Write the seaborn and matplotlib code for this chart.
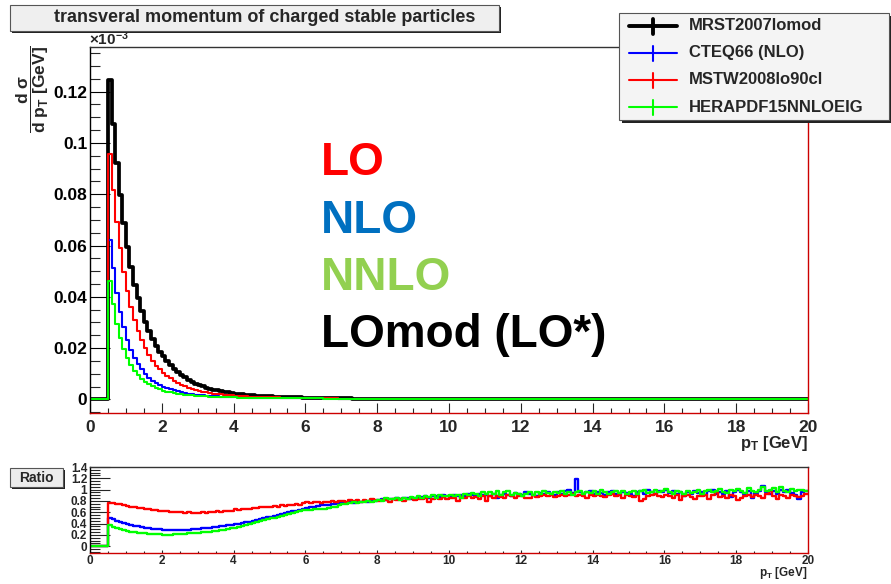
import numpy as np
import pandas as pd
import matplotlib
matplotlib.use("Agg")
import matplotlib.pyplot as plt
import seaborn as sns
from matplotlib.patches import Rectangle
from matplotlib.lines import Line2D
from matplotlib.ticker import MultipleLocator, FuncFormatter

# ---------------- data ----------------
pt_start = 0.5          # first filled bin edge [GeV]
bin_width = 0.1         # histogram bin width [GeV]
pt_max = 20.0

series_names = ["MRST2007lomod", "CTEQ66 (NLO)", "MSTW2008lo90cl", "HERAPDF15NNLOEIG"]
series_colors = ["#000000", "#0000ff", "#ff0000", "#00ff00"]

# d sigma / d pT of the reference (MRST2007lomod) histogram, in units of 1e-3
black_main = [
    0.1244, 0.1075, 0.0921, 0.0797, 0.0688,
    0.0594, 0.0516, 0.0448, 0.0394, 0.0345, 0.0301, 0.0265, 0.0235, 0.0208, 0.0186,
    0.0168, 0.0150, 0.0134, 0.0120, 0.0107, 0.0096, 0.0086, 0.0077, 0.0069, 0.0062,
    0.0057, 0.0051, 0.0046, 0.0042, 0.0038, 0.0035, 0.0032, 0.0029, 0.0027, 0.0025,
    0.0023, 0.0021, 0.0020, 0.0018, 0.0017, 0.0016, 0.0015, 0.0014, 0.0013, 0.0013,
    0.0012, 0.0011, 0.0011, 0.0010, 0.0010, 0.0009, 0.0009, 0.0008, 0.0008, 0.0007,
    0.0007, 0.0007, 0.0006, 0.0006, 0.0006, 0.0005, 0.0005, 0.0005, 0.0005, 0.0004,
    0.0004, 0.0004, 0.0004, 0.0003, 0.0003, 0.0003, 0.0003, 0.0003, 0.0003, 0.0002,
    0.00025, 0.00024, 0.00023, 0.00022, 0.00021, 0.0002, 0.00019, 0.00018, 0.00018, 0.00017,
    0.00016, 0.00015, 0.00015, 0.00014, 0.00013, 0.00013, 0.00012, 0.00012, 0.00011, 0.00011,
    0.0001, 0.0001, 0.00009, 0.00009, 0.00009, 0.00008, 0.00008, 0.00008, 0.00007, 0.00007,
    0.00007, 0.00006, 0.00006, 0.00006, 0.00006, 0.00005, 0.00005, 0.00005, 0.00005, 0.00005,
    0.00004, 0.00004, 0.00004, 0.00004, 0.00004, 0.00004, 0.00004, 0.00004, 0.00004, 0.00004,
    0.00004, 0.00004, 0.00003, 0.00003, 0.00003, 0.00003, 0.00003, 0.00003, 0.00003, 0.00003,
    0.00003, 0.00003, 0.00003, 0.00003, 0.00003, 0.00003, 0.00003, 0.00003, 0.00003, 0.00003,
    0.00003, 0.00003, 0.00002, 0.00002, 0.00002, 0.00002, 0.00002, 0.00002, 0.00002, 0.00002,
    0.00002, 0.00002, 0.00002, 0.00002, 0.00002, 0.00002, 0.00002, 0.00002, 0.00002, 0.00002,
    0.00002, 0.00002, 0.00002, 0.00002, 0.00002, 0.00002, 0.00002, 0.00002, 0.00002, 0.00002,
    0.00002, 0.00002, 0.00002, 0.00002, 0.00002, 0.00002, 0.00002, 0.00002, 0.00002, 0.00002,
    0.00002, 0.00002, 0.00002, 0.00002, 0.00002, 0.00002, 0.00002, 0.00002, 0.00002, 0.00002,
]

# ratio to MRST2007lomod
ratio_blue = [
    0.50, 0.475, 0.45, 0.43, 0.41,
    0.39, 0.375, 0.36, 0.35, 0.34, 0.33, 0.32, 0.31, 0.305, 0.30,
    0.295, 0.29, 0.29, 0.29, 0.29, 0.29, 0.295, 0.295, 0.30, 0.305,
    0.31, 0.315, 0.32, 0.33, 0.335, 0.345, 0.35, 0.36, 0.37, 0.38,
    0.39, 0.40, 0.41, 0.42, 0.435, 0.45, 0.465, 0.48, 0.495, 0.51,
    0.52, 0.535, 0.55, 0.565, 0.58, 0.60, 0.615, 0.63, 0.645, 0.66,
    0.68, 0.69, 0.695, 0.71, 0.72, 0.725, 0.735, 0.745, 0.75, 0.76,
    0.76, 0.77, 0.78, 0.77, 0.79, 0.78, 0.80, 0.79, 0.81, 0.80,
    0.81, 0.83, 0.82, 0.84, 0.83, 0.85, 0.84, 0.86, 0.85, 0.84,
    0.86, 0.85, 0.87, 0.88, 0.86, 0.88, 0.89, 0.87, 0.90, 0.88,
    0.89, 0.90, 0.88, 0.91, 0.89, 0.92, 0.90, 0.88, 0.93, 0.90,
    0.91, 0.89, 0.92, 0.86, 0.90, 0.93, 0.91, 0.89, 0.94, 0.92,
    0.90, 0.95, 0.93, 0.91, 0.89, 0.94, 0.92, 0.96, 0.93, 0.91,
    0.95, 0.93, 0.97, 1.00, 0.94, 1.18, 0.96, 0.93, 0.95, 0.97,
    0.92, 0.96, 0.94, 0.91, 0.95, 0.97, 0.93, 0.90, 0.96, 0.94,
    0.92, 0.89, 0.95, 0.97, 0.93, 0.99, 0.95, 0.92, 0.98, 0.96,
    1.00, 0.94, 0.97, 0.92, 0.95, 0.89, 0.96, 0.93, 0.98, 0.94,
    0.95, 0.91, 0.97, 0.99, 0.93, 0.96, 0.92, 0.97, 0.87, 0.95,
    0.99, 0.96, 0.93, 0.98, 0.85, 0.94, 0.97, 1.06, 0.95, 0.93,
    0.97, 0.93, 0.99, 0.95, 1.00, 0.94, 0.90, 0.84, 0.96, 0.98,
]

ratio_red = [
    0.77, 0.76, 0.75, 0.74, 0.72,
    0.71, 0.70, 0.69, 0.68, 0.67, 0.66, 0.65, 0.645, 0.635, 0.63,
    0.62, 0.615, 0.61, 0.605, 0.60, 0.60, 0.595, 0.60, 0.59, 0.595,
    0.59, 0.60, 0.595, 0.61, 0.60, 0.615, 0.61, 0.625, 0.62, 0.63,
    0.655, 0.64, 0.65, 0.665, 0.66, 0.68, 0.675, 0.69, 0.70, 0.695,
    0.70, 0.71, 0.70, 0.72, 0.71, 0.73, 0.72, 0.74, 0.735, 0.76,
    0.78, 0.77, 0.785, 0.78, 0.77, 0.79, 0.78, 0.795, 0.785, 0.80,
    0.80, 0.79, 0.81, 0.80, 0.82, 0.79, 0.81, 0.80, 0.83, 0.81,
    0.80, 0.82, 0.81, 0.79, 0.83, 0.82, 0.84, 0.80, 0.83, 0.85,
    0.82, 0.84, 0.83, 0.86, 0.78, 0.84, 0.85, 0.83, 0.87, 0.84,
    0.86, 0.85, 0.80, 0.87, 0.86, 0.88, 0.85, 0.87, 0.84, 0.89,
    0.80, 0.88, 0.86, 0.89, 0.87, 0.85, 0.90, 0.88, 0.86, 0.89,
    0.88, 0.85, 0.86, 0.90, 0.87, 0.89, 0.91, 0.88, 0.90, 0.87,
    0.89, 0.91, 0.88, 0.90, 0.92, 0.89, 0.91, 0.88, 0.86, 0.90,
    0.88, 0.91, 0.89, 0.87, 0.90, 0.92, 0.88, 0.90, 0.86, 0.91,
    0.89, 0.87, 0.91, 0.80, 0.83, 0.88, 0.90, 0.92, 0.89, 0.87,
    0.91, 0.88, 0.86, 0.90, 0.82, 0.89, 0.91, 0.87, 0.84, 0.89,
    0.88, 0.90, 0.84, 0.91, 0.96, 0.87, 0.89, 0.85, 0.90, 0.88,
    0.82, 0.86, 0.89, 0.91, 0.87, 0.90, 0.88, 0.86, 0.92, 0.97,
    0.89, 0.84, 0.90, 0.88, 0.86, 0.91, 0.89, 0.87, 0.89, 0.92,
]

ratio_green = [
    0.37, 0.345, 0.32, 0.30, 0.285,
    0.27, 0.26, 0.25, 0.24, 0.23, 0.225, 0.22, 0.215, 0.21, 0.21,
    0.205, 0.205, 0.205, 0.21, 0.21, 0.215, 0.22, 0.225, 0.23, 0.235,
    0.24, 0.245, 0.25, 0.26, 0.265, 0.275, 0.285, 0.295, 0.305, 0.315,
    0.33, 0.345, 0.36, 0.375, 0.39, 0.41, 0.425, 0.44, 0.46, 0.475,
    0.49, 0.505, 0.52, 0.54, 0.555, 0.575, 0.59, 0.61, 0.62, 0.635,
    0.64, 0.645, 0.65, 0.655, 0.66, 0.66, 0.67, 0.69, 0.70, 0.72,
    0.74, 0.75, 0.76, 0.78, 0.77, 0.79, 0.78, 0.80, 0.79, 0.80,
    0.81, 0.80, 0.86, 0.84, 0.83, 0.85, 0.82, 0.86, 0.84, 0.87,
    0.85, 0.88, 0.86, 0.89, 0.87, 0.90, 0.86, 0.91, 0.89, 0.88,
    0.90, 0.88, 0.91, 0.85, 0.93, 0.90, 0.94, 0.92, 0.89, 0.95,
    0.92, 0.96, 0.93, 0.98, 0.91, 0.95, 0.97, 0.90, 0.94, 0.92,
    0.88, 0.93, 0.96, 0.91, 0.95, 0.93, 0.97, 0.94, 0.92, 0.96,
    0.94, 0.98, 0.93, 0.96, 0.91, 0.95, 0.97, 0.93, 0.96, 0.94,
    0.97, 0.93, 0.99, 0.95, 0.92, 0.96, 0.98, 0.94, 0.97, 0.93,
    0.95, 0.98, 0.92, 0.97, 1.00, 0.94, 0.96, 0.99, 0.95, 0.98,
    1.01, 0.96, 0.93, 0.97, 0.95, 0.92, 0.98, 0.94, 0.96, 0.99,
    0.93, 0.97, 1.00, 0.95, 0.98, 1.02, 0.96, 0.94, 0.99, 0.97,
    1.02, 0.97, 0.94, 1.03, 0.98, 0.96, 1.00, 1.04, 0.97, 0.99,
    1.03, 0.95, 1.04, 0.98, 0.96, 1.02, 0.97, 1.00, 0.99, 0.97,
]

order_labels = ["LO", "NLO", "NNLO", "LOmod (LO*)"]
order_colors = ["#ff0000", "#0070c0", "#92d050", "#000000"]

main_yticks = [0, 0.02, 0.04, 0.06, 0.08, 0.1, 0.12]
ratio_yticks = [0, 0.2, 0.4, 0.6, 0.8, 1.0, 1.2, 1.4]
xticks = [0, 2, 4, 6, 8, 10, 12, 14, 16, 18, 20]

# ---------------- style ----------------
sns.set_style("white")
plt.rcParams["font.family"] = ["Liberation Sans", "DejaVu Sans"]
plt.rcParams["font.weight"] = "bold"
plt.rcParams["mathtext.fontset"] = "custom"
plt.rcParams["mathtext.rm"] = "Liberation Sans:bold"
plt.rcParams["mathtext.it"] = "Liberation Sans:bold"
plt.rcParams["mathtext.bf"] = "Liberation Sans:bold"
plt.rcParams["mathtext.sf"] = "Liberation Sans:bold"
plt.rcParams["mathtext.default"] = "bf"

W, H = 891, 584
fig = plt.figure(figsize=(W / 100, H / 100), dpi=100)
fig.patch.set_facecolor("white")


def fx(px):
    return px / W


def fy(py):
    return 1 - py / H


ax = fig.add_axes([fx(90), fy(413), fx(808) - fx(90), fy(47) - fy(413)])
axr = fig.add_axes([fx(90), fy(553), fx(808) - fx(90), fy(467) - fy(553)])

n = len(black_main)
edges = pt_start + bin_width * np.arange(n + 1)
x_steps = np.concatenate([[0.0], edges])

black = np.array(black_main)
ratios = [np.array(ratio_blue), np.array(ratio_red), np.array(ratio_green)]


def steps(vals):
    v = np.asarray(vals, dtype=float)
    return np.concatenate([[0.0], v, [v[-1]]])


# main panel: black, blue, red, green
main_series = [black] + [black * r for r in ratios]
main_lw = [2.7, 1.5, 1.5, 1.5]
for vals, col, lw in zip(main_series, series_colors, main_lw):
    df = pd.DataFrame({"pt": x_steps, "y": steps(vals)})
    sns.lineplot(data=df, x="pt", y="y", ax=ax, color=col, linewidth=lw,
                 drawstyle="steps-post", estimator=None, sort=False, legend=False)

for r, col in zip(ratios, series_colors[1:]):
    df = pd.DataFrame({"pt": x_steps, "y": steps(r)})
    sns.lineplot(data=df, x="pt", y="y", ax=axr, color=col, linewidth=1.7,
                 drawstyle="steps-post", estimator=None, sort=False, legend=False)

# axes ranges / ticks
ax.set_xlim(0, pt_max)
ax.set_ylim(-0.0053, 0.1374)
axr.set_xlim(0, pt_max)
axr.set_ylim(-0.12, 1.40)

fmt = FuncFormatter(lambda v, p: "0" if abs(v) < 1e-12 else f"{v:g}")
for a in (ax, axr):
    a.set_xlabel("")
    a.set_ylabel("")
    a.set_xticks(xticks)
    a.xaxis.set_minor_locator(MultipleLocator(0.5))
    a.yaxis.set_major_formatter(fmt)
    a.set_facecolor("white")
    a.spines["left"].set_color("black")
    a.spines["top"].set_color("#333333")
    a.spines["bottom"].set_color("#cc0000")
    a.spines["right"].set_color("#cc0000")
    for s in a.spines.values():
        s.set_linewidth(1.0)

ax.set_yticks(main_yticks)
ax.yaxis.set_minor_locator(MultipleLocator(0.005))
axr.set_yticks(ratio_yticks)
axr.yaxis.set_minor_locator(MultipleLocator(0.05))

ax.tick_params(axis="y", which="major", direction="in", length=14.4, width=0.8,
               labelsize=12.5, pad=2, left=True, right=False, colors="black")
ax.tick_params(axis="y", which="minor", direction="in", length=7.2, width=0.8, left=True, right=False)
ax.tick_params(axis="x", which="major", direction="in", length=7.2, width=0.8,
               labelsize=12.5, pad=5, bottom=True, top=False)
ax.tick_params(axis="x", which="minor", direction="in", length=3.6, width=0.8, bottom=True, top=False)

axr.tick_params(axis="y", which="major", direction="in", length=14.4, width=0.8,
                labelsize=8.5, pad=2, left=True, right=False)
axr.tick_params(axis="y", which="minor", direction="in", length=7.2, width=0.8, left=True, right=False)
axr.tick_params(axis="x", which="major", direction="in", length=2.4, width=0.8,
                labelsize=8.5, pad=1.5, bottom=True, top=False)
axr.tick_params(axis="x", which="minor", direction="in", length=1.2, width=0.8, bottom=True, top=False)

for lab in ax.get_xticklabels() + ax.get_yticklabels() + axr.get_xticklabels() + axr.get_yticklabels():
    lab.set_fontweight("bold")

# ---------------- texts ----------------
# title box with shadow
fig.add_artist(Rectangle((fx(12), fy(33)), fx(499) - fx(10), fy(5) - fy(31), transform=fig.transFigure,
                         facecolor="#222222", edgecolor="none", zorder=5))
fig.add_artist(Rectangle((fx(10), fy(31)), fx(499) - fx(10), fy(5) - fy(31), transform=fig.transFigure,
                         facecolor="#efefef", edgecolor="#555555", linewidth=0.8, zorder=6))
fig.text(fx(265), fy(18), "transveral momentum of charged stable particles", ha="center", va="center",
         fontsize=13, fontweight="bold", zorder=7)

# legend box
leg_x0, leg_x1, leg_y0, leg_y1 = 619, 889, 13, 120
fig.add_artist(Rectangle((fx(leg_x0 + 3), fy(leg_y1 + 3)), fx(leg_x1) - fx(leg_x0), fy(leg_y0) - fy(leg_y1),
                         transform=fig.transFigure, facecolor="#222222", edgecolor="none", zorder=5))
fig.add_artist(Rectangle((fx(leg_x0), fy(leg_y1)), fx(leg_x1) - fx(leg_x0), fy(leg_y0) - fy(leg_y1),
                         transform=fig.transFigure, facecolor="#f4f4f4", edgecolor="#555555",
                         linewidth=0.8, zorder=6))
row_y = [26, 53, 80, 107]
leg_lw = [2.8, 1.5, 1.5, 1.5]
for name, col, ry, lw in zip(series_names, series_colors, row_y, leg_lw):
    fig.add_artist(Line2D([fx(629), fx(677)], [fy(ry), fy(ry)], transform=fig.transFigure,
                          color=col, linewidth=lw, zorder=7))
    fig.add_artist(Line2D([fx(653), fx(653)], [fy(ry - 7.5), fy(ry + 7.5)], transform=fig.transFigure,
                          color=col, linewidth=lw, zorder=7))
    fig.text(fx(689), fy(ry), name, ha="left", va="center", fontsize=12, fontweight="bold", zorder=7)

# big order labels
for lab, col, by in zip(order_labels, order_colors, [175, 233, 290, 347]):
    fig.text(fx(321), fy(by), lab, color=col, fontsize=33, fontweight="bold", ha="left", va="baseline")

# axis labels
fig.text(fx(89), fy(48), r"$\times$10$^{-3}$", fontsize=11, ha="left", va="bottom")
fig.text(fx(33), fy(89), r"$\dfrac{d\ \sigma}{d\ p_{T}\ [GeV]}$", rotation=90, ha="center", va="center",
         fontsize=12.5)
fig.text(fx(808), fy(448), r"p$_{T}$ [GeV]", ha="right", va="baseline", fontsize=12, fontweight="bold")
fig.text(fx(808), fy(576), r"p$_{T}$ [GeV]", ha="right", va="baseline", fontsize=8.5, fontweight="bold")

# Ratio box
fig.add_artist(Rectangle((fx(12), fy(489)), fx(63) - fx(10), fy(468) - fy(487), transform=fig.transFigure,
                         facecolor="#222222", edgecolor="none", zorder=5))
fig.add_artist(Rectangle((fx(10), fy(487)), fx(63) - fx(10), fy(468) - fy(487), transform=fig.transFigure,
                         facecolor="#ececec", edgecolor="#555555", linewidth=0.8, zorder=6))
fig.text(fx(36.5), fy(477.5), "Ratio", ha="center", va="center", fontsize=10, fontweight="bold", zorder=7)

fig.savefig("out.png", dpi=100, facecolor="white")
